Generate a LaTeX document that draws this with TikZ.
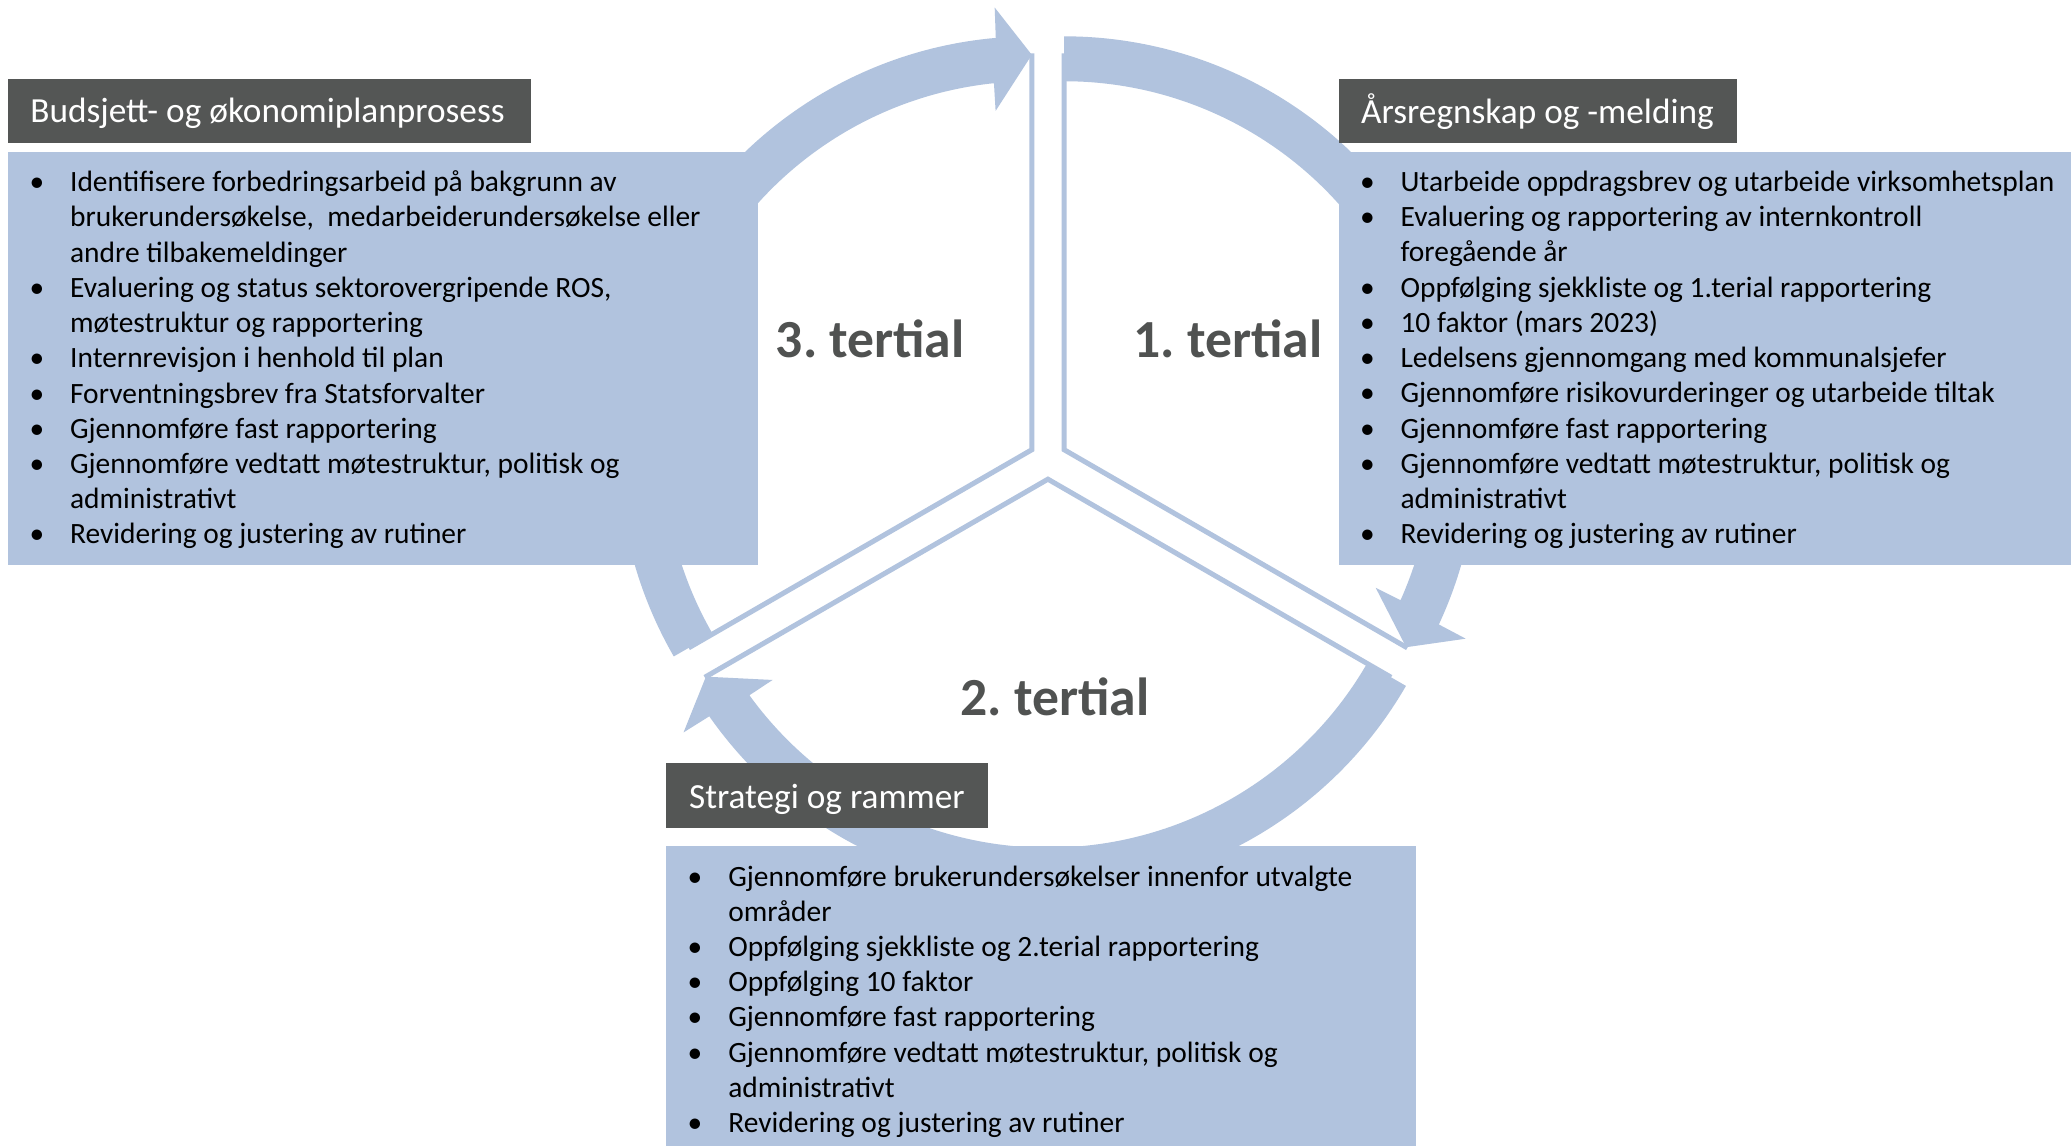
\documentclass[tikz,border=0pt]{standalone}
\usepackage{fontspec}
\setmainfont{Carlito}
\usetikzlibrary{calc}
\definecolor{lb}{HTML}{B1C3DE}
\definecolor{dk}{HTML}{545655}
\definecolor{tg}{HTML}{505251}
\newcommand\bu{\makebox[15.35pt][l]{•}}
\newcommand\ind{\hspace*{15.35pt}}
\frenchspacing
\begin{document}
\begin{tikzpicture}[x=0.5pt,y=-0.5pt,
  sect/.style={draw=lb, line width=1.9pt, line join=miter},
  hdr/.style={fill=dk, inner sep=0pt, outer sep=0pt, anchor=north west},
  cbox/.style={fill=lb, inner sep=0pt, outer sep=0pt, anchor=north west},
  htxt/.style={text=white, font=\fontsize{13.35}{16}\selectfont, inner sep=0pt, anchor=base west},
  btxt/.style={font=\fontsize{11.15}{13.33}\selectfont, inner sep=0pt, anchor=base west},
  ttl/.style={text=tg, font=\fontsize{20.3}{24}\selectfont\bfseries, inner sep=0pt, anchor=base west}]
\useasboundingbox (0,0) rectangle (1568,868);
\fill[white] (0,0) rectangle (1568,868);

% sector centres
\coordinate (c3) at (781.2,340.5);
\coordinate (c1) at (805.7,340.5);
\coordinate (c2) at (793.4,362.8);

% sector edges
\draw[sect] ($(c3)+(270:300)$) -- (c3) -- ($(c3)+(150:300)$);
\draw[sect] ($(c1)+(270:300)$) -- (c1) -- ($(c1)+(30:300)$);
\draw[sect] ($(c2)+(30:300)$) -- (c2) -- ($(c2)+(150:300)$);

% arrow bands
\fill[lb] ($(c3)+(150:313)$) arc[start angle=150, end angle=265, radius=313]
  -- ($(c3)+(265.2:336)$) -- ($(c3)+(270:299)$) -- ($(c3)+(263.9:258)$)
  -- ($(c3)+(264.1:279)$) arc[start angle=264.1, end angle=150, radius=279] -- cycle;
\fill[lb] ($(c1)+(270:313)$) arc[start angle=270, end angle=385, radius=313]
  -- ($(c1)+(385.2:336)$) -- ($(c1)+(390:299)$) -- ($(c1)+(383.9:258)$)
  -- ($(c1)+(384.1:279)$) arc[start angle=384.1, end angle=270, radius=279] -- cycle;
\fill[lb] ($(c2)+(30:313)$) arc[start angle=30, end angle=145, radius=313]
  -- ($(c2)+(145.2:336)$) -- ($(c2)+(150:299)$) -- ($(c2)+(143.9:258)$)
  -- ($(c2)+(144.1:279)$) arc[start angle=144.1, end angle=30, radius=279] -- cycle;

% boxes
\node[hdr, minimum width=198.15pt, minimum height=24.35pt] (hdrL) at (5.7,59.8) {};
\node[hdr, minimum width=151pt, minimum height=24.35pt] (hdrR) at (1013.4,59.8) {};
\node[hdr, minimum width=121.9pt, minimum height=24.6pt] (hdrB) at (504.2,577.4) {};
\node[cbox, minimum width=284pt, minimum height=156.5pt] (boxL) at (5.7,114.8) {};
\node[cbox, minimum width=277.3pt, minimum height=156.5pt] (boxR) at (1013.4,114.8) {};
\node[cbox, minimum width=284.1pt, minimum height=113.75pt] (boxB) at (504.2,640.5) {};

% header texts
\node[htxt] (htL) at (22.6,93) {Budsjett- og økonomiplanprosess};
\node[htxt] (htR) at (1030.2,93.5) {Årsregnskap og -melding};
\node[htxt] (htB) at (521.3,612) {Strategi og rammer};

% body texts
\node[btxt] (txtL) at (22,145.2) {\begin{tabular}[t]{@{}l@{}}
\bu Identifisere forbedringsarbeid på bakgrunn av\\
\ind brukerundersøkelse,~ medarbeiderundersøkelse eller\\
\ind andre tilbakemeldinger\\
\bu Evaluering og status sektorovergripende ROS,\\
\ind møtestruktur og rapportering\\
\bu Internrevisjon i henhold til plan\\
\bu Forventningsbrev fra Statsforvalter\\
\bu Gjennomføre fast rapportering\\
\bu Gjennomføre vedtatt møtestruktur, politisk og\\
\ind administrativt\\
\bu Revidering og justering av rutiner
\end{tabular}};
\node[btxt] (txtR) at (1029.3,145) {\begin{tabular}[t]{@{}l@{}}
\bu Utarbeide oppdragsbrev og utarbeide virksomhetsplan\\
\bu Evaluering og rapportering av internkontroll\\
\ind foregående år\\
\bu Oppfølging sjekkliste og 1.terial rapportering\\
\bu 10 faktor (mars 2023)\\
\bu Ledelsens gjennomgang med kommunalsjefer\\
\bu Gjennomføre risikovurderinger og utarbeide tiltak\\
\bu Gjennomføre fast rapportering\\
\bu Gjennomføre vedtatt møtestruktur, politisk og\\
\ind administrativt\\
\bu Revidering og justering av rutiner
\end{tabular}};
\node[btxt] (txtB) at (520.3,670.8) {\begin{tabular}[t]{@{}l@{}}
\bu Gjennomføre brukerundersøkelser innenfor utvalgte\\
\ind områder\\
\bu Oppfølging sjekkliste og 2.terial rapportering\\
\bu Oppfølging 10 faktor\\
\bu Gjennomføre fast rapportering\\
\bu Gjennomføre vedtatt møtestruktur, politisk og\\
\ind administrativt\\
\bu Revidering og justering av rutiner
\end{tabular}};

% period labels
\node[ttl] (t3) at (587,271) {3. tertial};
\node[ttl] (t1) at (858,271) {1. tertial};
\node[ttl] (t2) at (727,542) {2. tertial};
\end{tikzpicture}
\end{document}
